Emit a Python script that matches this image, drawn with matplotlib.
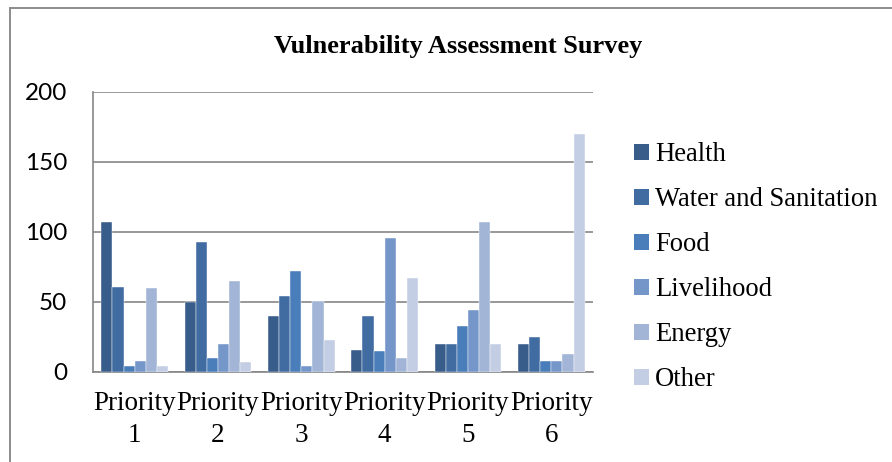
import matplotlib.pyplot as plt
from matplotlib.patches import Patch
from matplotlib.lines import Line2D
import numpy as np

# Data
categories = ["Priority\n1", "Priority\n2", "Priority\n3", "Priority\n4", "Priority\n5", "Priority\n6"]
health = [107, 50, 40, 16, 20, 20]
water = [61, 93, 54, 40, 20, 25]
food = [4, 10, 72, 15, 33, 8]
livelihood = [8, 20, 4, 96, 44, 8]
energy = [60, 65, 51, 10, 107, 13]
other = [4, 7, 23, 67, 20, 170]

series = [health, water, food, livelihood, energy, other]
names = ["Health", "Water and Sanitation", "Food", "Livelihood", "Energy", "Other"]
colors = ["#385d8a", "#416ca2", "#4a7ebb", "#7596c9", "#a2b5d6", "#c3cde3"]

W, H = 892, 462
fig = plt.figure(figsize=(W / 100, H / 100), dpi=100)

# outer chart border (cut off at right/bottom like the original)
grey = "#8c8c8c"
fig.add_artist(Line2D([9.5 / W, 9.5 / W], [0, 1 - 7.5 / H], color=grey, lw=1.4, transform=fig.transFigure))
fig.add_artist(Line2D([9.5 / W, 1], [1 - 7.5 / H, 1 - 7.5 / H], color=grey, lw=1.4, transform=fig.transFigure))

ax = fig.add_axes([93 / W, (H - 372) / H, 500 / W, 280 / H])

x = np.arange(len(categories))
bw = 0.8 / len(series)
for i, (vals, col) in enumerate(zip(series, colors)):
    ax.bar(x - 0.4 + bw * (i + 0.5), vals, width=bw, color=col, label=names[i],
           edgecolor="white", linewidth=0.3, zorder=3)

ax.set_xlim(-0.5, len(categories) - 0.5)
ax.set_ylim(0, 200)
ax.set_yticks([0, 50, 100, 150, 200])
ax.yaxis.grid(True, color="#868686", lw=1.2, zorder=0)
ax.tick_params(axis="y", length=0, pad=18.5, labelsize=17.5)
for lab in ax.get_yticklabels():
    lab.set_fontfamily("Lato")
ax.set_xticks(x)
ax.set_xticklabels(categories, fontfamily="Liberation Serif", fontsize=19.5, linespacing=1.35)
ax.tick_params(axis="x", length=0, pad=14)

for s in ["top", "right"]:
    ax.spines[s].set_visible(False)
for s in ["left", "bottom"]:
    ax.spines[s].set_color("#868686")
    ax.spines[s].set_linewidth(1.2)

fig.text(458 / W, 1 - 46 / H, "Vulnerability Assessment Survey", ha="center", va="center",
         fontfamily="Liberation Serif", fontweight="bold", fontsize=19)

handles = [Patch(facecolor=c) for c in colors]
fig.legend(handles, names, loc="upper left", bbox_to_anchor=(634 / W, 1 - 142 / H),
           frameon=False, prop={"family": "Liberation Serif", "size": 19.2},
           handlelength=0.55, handleheight=0.55, handletextpad=0.25, labelspacing=0.75,
           borderaxespad=0, borderpad=0)

fig.savefig("out.png", dpi=100)
